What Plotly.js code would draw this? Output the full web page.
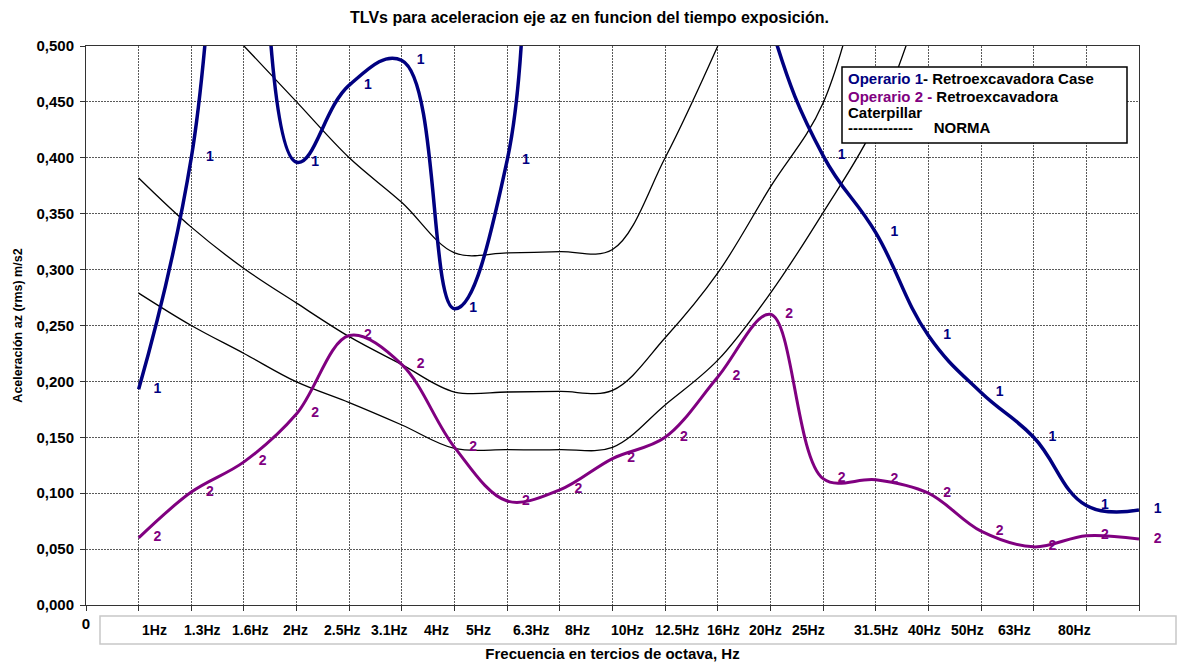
<!DOCTYPE html>
<html><head><meta charset="utf-8">
<script src="https://cdn.plot.ly/plotly-3.0.1.min.js"></script>
<style>html,body{margin:0;padding:0;background:#fff}#chart{width:1179px;height:665px}</style>
</head><body><div id="chart"></div>
<script>
// ---- data ----
const categories = ['1Hz','1.3Hz','1.6Hz','2Hz','2.5Hz','3.1Hz','4Hz','5Hz','6.3Hz','8Hz','10Hz','12.5Hz','16Hz','20Hz','25Hz','31.5Hz','40Hz','50Hz','63Hz','80Hz'];
const xIndex = [1,2,3,4,5,6,7,8,9,10,11,12,13,14,15,16,17,18,19,20];
const operario1 = [0.193,0.400,0.85,0.396,0.465,0.487,0.265,0.398,0.95,1.00,0.95,0.75,0.52,0.402,0.333,0.241,0.190,0.150,0.089,0.085];
const operario2 = [0.060,0.101,0.128,0.171,0.241,0.215,0.141,0.093,0.103,0.131,0.150,0.204,0.260,0.113,0.112,0.100,0.066,0.052,0.062,0.059];
const normaA = [null,null,0.500,0.450,0.400,0.360,0.315,0.315,0.316,0.318,0.400,0.500,null,null,null,null,null,null,null,null];
const normaB = [0.382,0.338,0.301,0.270,0.240,0.215,0.1905,0.1905,0.191,0.192,0.239,0.297,0.374,0.449,0.620,null,null,null,null,null];
const normaC = [0.279,0.250,0.225,0.1995,0.181,0.161,0.140,0.139,0.139,0.141,0.179,0.219,0.279,0.351,0.431,0.560,null,null,null,null];
const yTicks = [0,0.05,0.1,0.15,0.2,0.25,0.3,0.35,0.4,0.45,0.5];

// layout only: centres (in axis units) of the category words inside the text box below the axis
const boxLabelX = [1.31,2.22,3.13,3.97,4.88,5.77,6.65,7.45,8.47,9.33,10.28,11.23,12.10,12.90,13.73,15.0,15.92,16.75,17.64,18.78];

const NAVY = '#000080', PURPLE = '#800080';
const FONT = 'Liberation Sans, Arial, sans-serif';
const yMax = 0.5;

function lineTrace(y, color, width, sm){
  return {x:xIndex, y:y, type:'scatter', mode:'lines', line:{color:color, width:width, shape:'spline', smoothing:sm},
          hoverinfo:'skip', cliponaxis:true, showlegend:false};
}
function labelTrace(y, label, color){
  return {x:xIndex, y:y, type:'scatter', mode:'markers+text',
          text:y.map(v => (v!==null && v<=yMax) ? label : ''),
          textposition:'middle right',
          textfont:{family:FONT, size:14, color:color, weight:'bold'},
          marker:{size:22, opacity:0}, hoverinfo:'skip', cliponaxis:false, showlegend:false};
}

const traces = [
  lineTrace(normaA,'#000',1.3,1),
  lineTrace(normaB,'#000',1.3,1),
  lineTrace(normaC,'#000',1.3,1),
  lineTrace(operario2,PURPLE,3,1),
  lineTrace(operario1,NAVY,3.5,1.2),
  labelTrace(operario2,'2',PURPLE),
  labelTrace(operario1,'1',NAVY)
];

// plot area in px: left 86, right 1139, top 46, bottom 605
const L=86, R=1139, T=46, B=605;
const px2paperX = p => (p-L)/(R-L);
const px2paperY = p => (B-p)/(B-T);

const annotations = [];
categories.forEach((c,i)=>{
  annotations.push({text:c, xref:'x', yref:'paper', x:boxLabelX[i], y:px2paperY(630), xanchor:'center', yanchor:'middle',
    showarrow:false, font:{family:FONT, size:14, color:'#000', weight:'bold'}});
});
const legLines = [
  `<span style="color:${NAVY}">Operario 1</span>- Retroexcavadora Case`,
  `<span style="color:${PURPLE}">Operario 2 - </span>Retroexcavadora`,
  'Caterpillar',
  '-------------\u00a0\u00a0\u00a0\u00a0\u00a0NORMA'
];
const legY = [78,96,112,128];
legLines.forEach((t,i)=>{
  annotations.push({text:t, xref:'paper', yref:'paper', x:px2paperX(846), y:px2paperY(legY[i]), xanchor:'left', yanchor:'middle',
    showarrow:false, font:{family:FONT, size:15, color:'#000', weight:'bold'}});
});

const shapes = [
  {type:'rect', xref:'paper', yref:'paper', x0:px2paperX(842), x1:px2paperX(1127), y0:px2paperY(143), y1:px2paperY(67),
   line:{color:'#000', width:1.5}, fillcolor:'#fff', layer:'above'},
  {type:'rect', xref:'paper', yref:'paper', x0:px2paperX(100), x1:px2paperX(1176), y0:px2paperY(644), y1:px2paperY(616),
   line:{color:'#c8c8c8', width:1.5}, fillcolor:'#fff', layer:'above'}
];

const gridDash = '2px,1px';
const layout = {
  width:1179, height:665,
  margin:{l:L, r:1179-R, t:T, b:665-B},
  paper_bgcolor:'#fff', plot_bgcolor:'#fff',
  separators:',.',
  showlegend:false,
  font:{family:FONT, color:'#000'},
  title:{text:'TLVs para aceleracion eje az en funcion del tiempo exposición.', x:0.5, xref:'container', y:1-17/665, yanchor:'middle',
         font:{family:FONT, size:16, weight:'bold', color:'#000'}},
  xaxis:{range:[0,20], tickmode:'array', tickvals:[0].concat(xIndex), ticktext:['0'].concat(xIndex.map(()=>'')),
         showgrid:true, gridcolor:'#5a5a5a', gridwidth:1, griddash:gridDash,
         ticks:'outside', ticklen:5, tickcolor:'#333', showline:true, linecolor:'#333', linewidth:1, mirror:true,
         zeroline:false, tickfont:{family:FONT, size:15, weight:'bold'},
         title:{text:'Frecuencia en tercios de octava, Hz', font:{family:FONT, size:15, weight:'bold'}, standoff:17}},
  yaxis:{range:[0,yMax], tickmode:'array', tickvals:yTicks, tickformat:'.3f',
         showgrid:true, gridcolor:'#5a5a5a', gridwidth:1, griddash:gridDash,
         ticks:'outside', ticklen:5, tickcolor:'#333', showline:true, linecolor:'#333', linewidth:1, mirror:true,
         zeroline:false, tickfont:{family:FONT, size:15, weight:'bold'}, ticklabelstandoff:3,
         title:{text:'Aceleración az (rms) m/s2', font:{family:FONT, size:12.5, weight:'bold'}, standoff:11}},
  annotations:annotations,
  shapes:shapes
};

Plotly.newPlot('chart', traces, layout, {displayModeBar:false, staticPlot:true});
</script>
</body></html>
